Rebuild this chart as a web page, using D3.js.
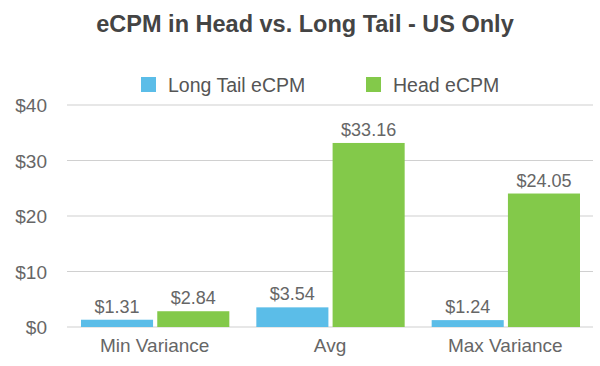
<!DOCTYPE html>
<html>
<head>
<meta charset="utf-8">
<script src="https://cdn.jsdelivr.net/npm/d3@7"></script>
<style>
  body { margin: 0; background: #fff; }
  text { font-family: "Liberation Sans", Arial, sans-serif; }
</style>
</head>
<body>
<div id="chart"></div>
<script>
const categories = ["Min Variance", "Avg", "Max Variance"];
const seriesNames = ["Long Tail eCPM", "Head eCPM"];
const longTail = [1.31, 3.54, 1.24];
const head = [2.84, 33.16, 24.05];
const yTicks = [0, 10, 20, 30, 40];
const colors = ["#5bbde8", "#83c94a"];

const width = 600, height = 366;
const margin = {top: 105, right: 7, bottom: 39, left: 67};

const svg = d3.select("#chart").append("svg")
    .attr("width", width)
    .attr("height", height);

// title
svg.append("text")
    .attr("x", 305)
    .attr("y", 32)
    .attr("text-anchor", "middle")
    .style("font-size", "23.5px")
    .style("font-weight", "bold")
    .style("fill", "#444")
    .text("eCPM in Head vs. Long Tail - US Only");

let x0 = d3.scaleBand()
    .domain(categories)
    .range([margin.left, width - margin.right]);

let x1 = d3.scaleBand()
    .domain(seriesNames)
    .range([14, x0.bandwidth() - 13])
    .paddingInner(0.055);

let y = d3.scaleLinear()
    .domain([0, 40])
    .range([height - margin.bottom, margin.top]);

// gridlines
svg.append("g")
    .selectAll("line")
    .data(yTicks)
    .join("line")
    .attr("x1", margin.left)
    .attr("x2", width - margin.right)
    .attr("y1", d => y(d))
    .attr("y2", d => y(d))
    .attr("stroke", "#d0d0d0")
    .attr("stroke-width", 1.2);

// y labels
svg.append("g")
    .selectAll("text")
    .data(yTicks)
    .join("text")
    .attr("x", 47)
    .attr("y", d => y(d) + 7)
    .attr("text-anchor", "end")
    .style("font-size", "19px")
    .style("fill", "#666")
    .text(d => "$" + d);

let rows = categories.map((c, i) => ({cat: c, values: [longTail[i], head[i]]}));

let groups = svg.append("g")
    .selectAll("g")
    .data(rows)
    .join("g")
    .attr("transform", d => `translate(${x0(d.cat)},0)`);

groups.selectAll("rect")
    .data(d => d.values.map((v, j) => ({key: seriesNames[j], value: v, j: j})))
    .join("rect")
    .attr("x", d => x1(d.key))
    .attr("width", x1.bandwidth())
    .attr("y", d => y(d.value))
    .attr("height", d => y(0) - y(d.value))
    .attr("fill", d => colors[d.j]);

groups.selectAll("text.val")
    .data(d => d.values.map((v, j) => ({key: seriesNames[j], value: v})))
    .join("text")
    .attr("class", "val")
    .attr("x", d => x1(d.key) + x1.bandwidth() / 2)
    .attr("y", d => y(d.value) - 7)
    .attr("text-anchor", "middle")
    .style("font-size", "18px")
    .style("fill", "#666")
    .text(d => "$" + d.value.toFixed(2));

// category labels
svg.append("g")
    .selectAll("text")
    .data(categories)
    .join("text")
    .attr("x", d => x0(d) + x0.bandwidth() / 2)
    .attr("y", height - margin.bottom + 25)
    .attr("text-anchor", "middle")
    .style("font-size", "19px")
    .style("fill", "#666")
    .text(d => d);

// legend
let legendX = [141, 366];
let legend = svg.append("g")
    .selectAll("g")
    .data(seriesNames)
    .join("g")
    .attr("transform", (d, i) => `translate(${legendX[i]},77)`);

legend.append("rect")
    .attr("width", 15)
    .attr("height", 15)
    .attr("fill", (d, i) => colors[i]);

legend.append("text")
    .attr("x", 27)
    .attr("y", 15)
    .style("font-size", "19.5px")
    .style("fill", "#555")
    .text(d => d);
</script>
</body>
</html>
